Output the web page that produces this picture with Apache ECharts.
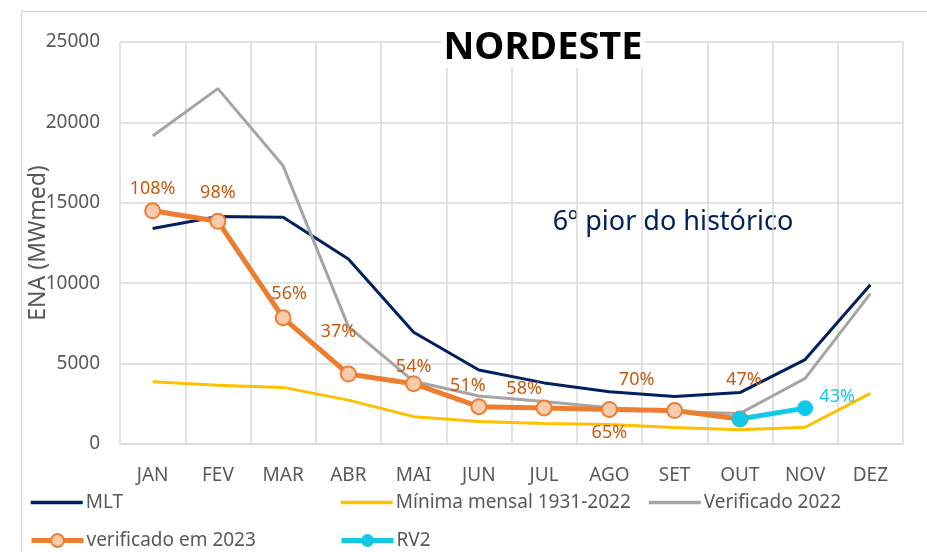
<!DOCTYPE html>
<html>
<head>
<meta charset="utf-8">
<script src="https://cdn.jsdelivr.net/npm/echarts@6/dist/echarts.min.js"></script>
<style>
  html, body { margin: 0; padding: 0; background: #fff; }
  #chart { width: 927px; height: 552px; }
</style>
</head>
<body>
<div id="chart"></div>
<script>
// meses
const months = ['JAN', 'FEV', 'MAR', 'ABR', 'MAI', 'JUN', 'JUL', 'AGO', 'SET', 'OUT', 'NOV', 'DEZ']
const yTicks = [0, 5000, 10000, 15000, 20000, 25000]

// ENA (MWmed)
const mlt = [13400, 14150, 14100, 11500, 6950, 4600, 3800, 3250, 2950, 3200, 5250, 9900]
const minima = [3870, 3660, 3520, 2730, 1700, 1400, 1270, 1220, 1020, 880, 1040, 3150]
const verif2022 = [19150, 22100, 17300, 7300, 3900, 2980, 2650, 2250, 2000, 1900, 4080, 9350]
const verif2023 = [14500, 13850, 7850, 4350, 3750, 2320, 2240, 2150, 2080, 1550, null, null]
const rv2 = [null, null, null, null, null, null, null, null, null, 1550, 2230, null]

// % da MLT
const labels2023 = ['108%', '98%', '56%', '37%', '54%', '51%', '58%', '65%', '70%', '47%', '', '']
const labelsRv2 = ['', '', '', '', '', '', '', '', '', '', '43%', '']

// deslocamento dos rótulos (px), como no original
const offs2023 = [[0, -22], [0, -28], [6, -24], [-10, -42], [0, -17], [-11, -21], [-20, -19], [0, 23], [-38, -31], [4, -39], [0, 0], [0, 0]]
const offsRv2 = [[0, 0], [0, 0], [0, 0], [0, 0], [0, 0], [0, 0], [0, 0], [0, 0], [0, 0], [0, 0], [32, -11], [0, 0]]

const FONT = 'Noto Sans'
const GRAY_TXT = '#595959'

const withLabels = (values, texts, offs) => values.map((v, i) => ({
  value: v,
  label: { show: !!texts[i], formatter: texts[i], offset: offs[i] }
}))

// uma legenda por item, para posicionar como no Excel
const legendItem = (item, left, top) => ({
  data: [item],
  left: left,
  top: top,
  itemWidth: 52,
  itemHeight: 16,
  textStyle: { fontFamily: FONT, fontSize: 19, color: GRAY_TXT, padding: [0, 0, 0, -2] }
})
const noMarker = { opacity: 0 }

const chart = echarts.init(document.getElementById('chart'))
chart.setOption({
  animation: false,
  backgroundColor: '#fff',
  grid: { left: 120, right: 24, top: 42, bottom: 108 },
  legend: [
    legendItem({ name: 'MLT', itemStyle: noMarker, lineStyle: { width: 3.5 } }, 24, 488),
    legendItem({ name: 'Mínima mensal 1931-2022', itemStyle: noMarker, lineStyle: { width: 3.5 } }, 334, 488),
    legendItem({ name: 'Verificado 2022', itemStyle: noMarker, lineStyle: { width: 3.5 } }, 642, 488),
    legendItem({ name: 'verificado em 2023', lineStyle: { width: 5 } }, 24, 526),
    legendItem({ name: 'RV2', lineStyle: { width: 5 } }, 334, 526)
  ],
  graphic: [
    {
      type: 'rect', left: 19, top: 9, silent: true,
      shape: { width: 920, height: 560 },
      style: { fill: 'none', stroke: '#D9D9D9', lineWidth: 1.5 }
    },
    {
      type: 'text', x: 543, y: 48, z: 100,
      style: {
        text: 'NORDESTE', font: 'bold 38px "Noto Sans"', fill: '#000',
        align: 'center', verticalAlign: 'middle',
        backgroundColor: '#fff', padding: [2, 2, 0, 2]
      }
    },
    {
      type: 'text', x: 673, y: 222,
      style: { text: '6º pior do histórico', font: '27px "Noto Sans"', fill: '#002060', align: 'center', verticalAlign: 'middle' }
    }
  ],
  xAxis: {
    type: 'category',
    data: months,
    boundaryGap: true,
    axisLine: { lineStyle: { color: '#D9D9D9', width: 1.5 } },
    axisTick: { show: false },
    axisLabel: { fontFamily: FONT, fontSize: 19, color: GRAY_TXT, margin: 22 },
    splitLine: { show: true, lineStyle: { color: '#D9D9D9', width: 1.5 } }
  },
  yAxis: {
    type: 'value',
    min: yTicks[0],
    max: yTicks[yTicks.length - 1],
    interval: yTicks[1] - yTicks[0],
    name: 'ENA (MWmed)',
    nameLocation: 'middle',
    nameGap: 70,
    nameMoveOverlap: false,
    nameTextStyle: { fontFamily: FONT, fontSize: 23, color: GRAY_TXT },
    axisLine: { show: false },
    axisTick: { show: false },
    axisLabel: { fontFamily: FONT, fontSize: 19, color: GRAY_TXT, margin: 20, formatter: (v) => String(v) },
    splitLine: { lineStyle: { color: '#D9D9D9', width: 1.5 } }
  },
  series: [
    {
      name: 'MLT', type: 'line', data: mlt, symbol: 'none',
      lineStyle: { color: '#002060', width: 3 }, itemStyle: { color: '#002060' }
    },
    {
      name: 'Mínima mensal 1931-2022', type: 'line', data: minima, symbol: 'none',
      lineStyle: { color: '#FFC000', width: 3 }, itemStyle: { color: '#FFC000' }
    },
    {
      name: 'Verificado 2022', type: 'line', data: verif2022, symbol: 'none',
      lineStyle: { color: '#A5A5A5', width: 3 }, itemStyle: { color: '#A5A5A5' }
    },
    {
      name: 'verificado em 2023', type: 'line',
      data: withLabels(verif2023, labels2023, offs2023),
      symbol: 'circle', symbolSize: 15, showAllSymbol: true,
      lineStyle: { color: '#ED7D31', width: 5 },
      itemStyle: { color: '#F8CBAD', borderColor: '#ED7D31', borderWidth: 2 },
      label: {
        show: true, position: 'inside', fontFamily: FONT, fontSize: 18,
        color: '#C55A11', align: 'center', verticalAlign: 'middle'
      }
    },
    {
      name: 'RV2', type: 'line',
      data: withLabels(rv2, labelsRv2, offsRv2),
      symbol: 'circle', symbolSize: 16,
      lineStyle: { color: '#12C8E8', width: 5 },
      itemStyle: { color: '#12C8E8' },
      label: {
        show: true, position: 'inside', fontFamily: FONT, fontSize: 18,
        color: '#12C8E8', align: 'center', verticalAlign: 'middle'
      }
    }
  ]
})
</script>
</body>
</html>
